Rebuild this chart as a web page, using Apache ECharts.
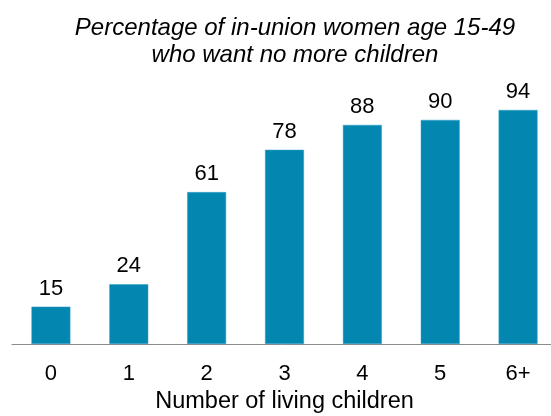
<!DOCTYPE html>
<html><head><meta charset="utf-8">
<script src="https://cdn.jsdelivr.net/npm/echarts@6/dist/echarts.min.js"></script>
<style>html,body{margin:0;padding:0;background:#fff}#c{width:551px;height:416px}</style>
</head><body><div id="c"></div>
<script>
var categories = ['0', '1', '2', '3', '4', '5', '6+'];
var values = [15, 24, 61, 78, 88, 90, 94];
var titleLines = ['Percentage of in-union women age 15-49', 'who want no more children'];
var axisName = 'Number of living children';

var chart = echarts.init(document.getElementById('c'), null, {renderer: 'canvas'});
var F = 'Liberation Sans, Arial, sans-serif';
chart.setOption({
  animation: false,
  title: {
    text: titleLines.join('\n'), left: 290, top: 10, textAlign: 'center',
    textStyle: {fontFamily: F, fontStyle: 'italic', fontWeight: 'normal', fontSize: 24, lineHeight: 27, color: '#000', align: 'center'}
  },
  grid: {left: 12, top: 95, width: 545, height: 249, containLabel: false, outerBoundsMode: 'none'},
  xAxis: {
    type: 'category', data: categories,
    name: axisName, nameLocation: 'middle', nameGap: 45,
    nameTextStyle: {fontFamily: F, fontSize: 23.5, color: '#000'},
    axisLine: {lineStyle: {color: '#8c8c8c', width: 1}},
    axisTick: {show: false},
    axisLabel: {fontFamily: F, fontSize: 22, color: '#000', margin: 19}
  },
  yAxis: {type: 'value', min: 0, max: 100, show: false, splitLine: {show: false}},
  series: [{
    type: 'bar', data: values, barWidth: '50%',
    itemStyle: {color: '#0386b0', borderColor: '#39a3c6', borderWidth: 0.5},
    label: {show: true, position: 'top', distance: 7, fontFamily: F, fontSize: 22, color: '#000'}
  }]
});
</script></body></html>
